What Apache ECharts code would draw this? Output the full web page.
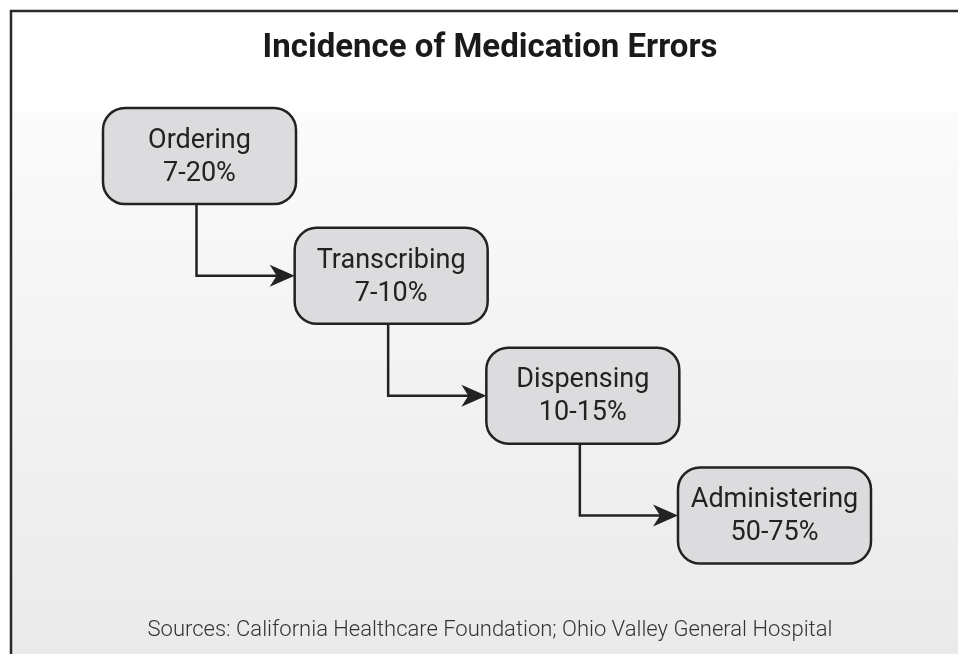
<!DOCTYPE html>
<html><head><meta charset="utf-8">
<script src="https://cdn.jsdelivr.net/npm/echarts@6/dist/echarts.min.js"></script>
<style>html,body{margin:0;padding:0;background:#fff}#c{width:958px;height:654px}</style>
</head><body><div id="c"></div>
<script>
// Data
var stages = ['Ordering', 'Transcribing', 'Dispensing', 'Administering'];
var lowPct = [7, 7, 10, 50];
var highPct = [20, 10, 15, 75];
var stepIndex = [0, 1, 2, 3];
var titleText = 'Incidence of Medication Errors';
var sourceText = 'Sources: California Healthcare Foundation; Ohio Valley General Hospital';

var BOX_W = 193, BOX_H = 96, LINE_OFF = -3;
var boxData = stepIndex.map(function (s, i) {
  return [s, s, stages[i], lowPct[i] + '-' + highPct[i] + '%'];
});
var linkData = stepIndex.slice(0, -1).map(function (s) { return [s, s, s + 1, s + 1]; });

var chart = echarts.init(document.getElementById('c'), null, {renderer: 'canvas'});
chart.setOption({
  animation: false,
  graphic: [
    {type: 'rect', z: -10, silent: true, shape: {x: 10, y: 112, width: 948, height: 542},
     style: {fill: new echarts.graphic.LinearGradient(0, 0, 0, 1, [{offset: 0, color: '#fbfbfb'}, {offset: 1, color: '#eaeaec'}])}},
    {type: 'line', z: 10, shape: {x1: 10, y1: 11, x2: 958, y2: 11}, style: {stroke: '#2a2a2a', lineWidth: 2.5}},
    {type: 'line', z: 10, shape: {x1: 11, y1: 10, x2: 11, y2: 654}, style: {stroke: '#2a2a2a', lineWidth: 2.5}},
    {type: 'text', x: 490, y: 49,
     style: {text: titleText, font: 'bold 33px Roboto', fill: '#1a1a1a', align: 'center', verticalAlign: 'middle'}},
    {type: 'text', x: 490, y: 630,
     style: {text: sourceText, font: '300 22px Roboto', fill: '#333', align: 'center', verticalAlign: 'middle'}}
  ],
  grid: {left: 199.5, right: 958 - 774.5, top: 156, bottom: 654 - 515.5},
  xAxis: {type: 'value', min: 0, max: 3, show: false},
  yAxis: {type: 'value', min: 0, max: 3, inverse: true, show: false},
  series: [
    {
      type: 'custom', data: linkData, z: 1,
      renderItem: function (params, api) {
        var a = api.coord([api.value(0), api.value(1)]);
        var b = api.coord([api.value(2), api.value(3)]);
        var x = a[0] + LINE_OFF;
        var tipX = b[0] - BOX_W / 2;
        var y = b[1];
        return {
          type: 'group', children: [
            {type: 'polyline', shape: {points: [[x, a[1] + BOX_H / 2], [x, y], [tipX - 12, y]]},
             style: {stroke: '#222', lineWidth: 2.5, fill: null}},
            {type: 'polygon', shape: {points: [[tipX, y], [tipX - 25, y - 11], [tipX - 18, y], [tipX - 25, y + 11]]},
             style: {fill: '#222', stroke: null}}
          ]
        };
      }
    },
    {
      type: 'custom', data: boxData, z: 2,
      renderItem: function (params, api) {
        var c = api.coord([api.value(0), api.value(1)]);
        return {
          type: 'group', children: [
            {type: 'rect', shape: {x: c[0] - BOX_W / 2, y: c[1] - BOX_H / 2, width: BOX_W, height: BOX_H, r: 22},
             style: {fill: '#dcdcde', stroke: '#222', lineWidth: 2.5}},
            {type: 'text', style: {x: c[0], y: c[1] - 15, text: api.value(2), align: 'center', verticalAlign: 'middle',
              font: '27px Roboto', fill: '#222'}},
            {type: 'text', style: {x: c[0], y: c[1] + 18, text: api.value(3), align: 'center', verticalAlign: 'middle',
              font: '27px Roboto', fill: '#222'}}
          ]
        };
      }
    }
  ]
});
</script></body></html>
